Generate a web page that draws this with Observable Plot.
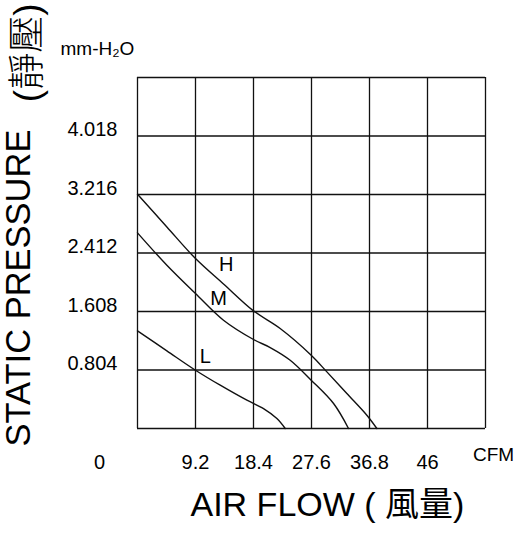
<!DOCTYPE html>
<html>
<head>
<meta charset="utf-8">
<script src="https://cdn.jsdelivr.net/npm/d3@7"></script>
<script src="https://cdn.jsdelivr.net/npm/@observablehq/plot@0.6"></script>
<style>
  html, body { margin: 0; padding: 0; background: #fff; }
  #chart svg { display: block; }
</style>
</head>
<body>
<div id="chart"></div>
<script>
// Grid / tick values
const xGrid = [0, 9.2, 18.4, 27.6, 36.8, 46, 55.2];
const yGrid = [0, 0.804, 1.608, 2.412, 3.216, 4.02, 4.824];
const xTickValues = [9.2, 18.4, 27.6, 36.8, 46];
const xTickLabels = ["9.2", "18.4", "27.6", "36.8", "46"];
const yTickValues = [0.804, 1.608, 2.412, 3.216, 4.02];
const yTickLabels = ["0.804", "1.608", "2.412", "3.216", "4.018"];

// Curves (CFM, mm-H2O)
const hFlow     = [0, 4.66, 9.2, 13.64, 18.4, 22.63, 27.55, 30.04, 33.21, 36.38, 37.97];
const hPressure = [3.22, 2.77, 2.336, 1.987, 1.617, 1.374, 1.007, 0.778, 0.481, 0.183, 0];
const mFlow     = [0, 4.66, 9.2, 13.64, 18.4, 21.05, 24.22, 27.55, 31.1, 33.47];
const mPressure = [2.689, 2.244, 1.855, 1.488, 1.223, 1.113, 0.939, 0.664, 0.343, 0];
const lFlow     = [0, 4.66, 9.2, 13.12, 17.35, 19.99, 22.11, 23.43];
const lPressure = [1.342, 1.067, 0.801, 0.595, 0.389, 0.274, 0.137, 0];

const seriesNames = ["H", "M", "L"];
const labelFlow = [14.07, 12.85, 10.74];
const labelPressure = [2.258, 1.781, 0.994];

const rows = [
  ...hFlow.map((f, i) => ({series: "H", flow: f, pressure: hPressure[i]})),
  ...mFlow.map((f, i) => ({series: "M", flow: f, pressure: mPressure[i]})),
  ...lFlow.map((f, i) => ({series: "L", flow: f, pressure: lPressure[i]}))
];
const labels = seriesNames.map((s, i) => ({series: s, flow: labelFlow[i], pressure: labelPressure[i]}));
const xTicks = xTickValues.map((v, i) => ({v, t: xTickLabels[i]}));
const yTicks = yTickValues.map((v, i) => ({v, t: yTickLabels[i]}));

const FONT = "'Liberation Sans', Arial, Helvetica, 'Noto Sans CJK TC', sans-serif";

const chart = Plot.plot({
  width: 517,
  height: 544,
  marginLeft: 137,
  marginRight: 32,
  marginTop: 77,
  marginBottom: 116,
  x: {domain: [0, 55.2], axis: null},
  y: {domain: [0, 4.824], axis: null},
  style: {fontFamily: FONT, background: "#fff", color: "#000"},
  marks: [
    Plot.ruleX(xGrid, {x: d => d, stroke: "#111", strokeWidth: 1.3}),
    Plot.ruleY(yGrid, {y: d => d, stroke: "#111", strokeWidth: 1.3}),
    Plot.line(rows, {x: "flow", y: "pressure", z: "series", curve: "catmull-rom", stroke: "#111", strokeWidth: 1.4}),
    Plot.text(labels, {x: "flow", y: "pressure", text: "series", fontSize: 20, fill: "#000"}),
    // y tick labels
    Plot.text(yTicks, {y: "v", text: "t", frameAnchor: "left", textAnchor: "end", dx: -20, dy: -6, fontSize: 20, fill: "#000"}),
    // x tick labels
    Plot.text(xTicks, {x: "v", text: "t", frameAnchor: "bottom", dy: 40, fontSize: 20, fill: "#000"}),
    Plot.text(["0"], {x: 0, text: d => d, frameAnchor: "bottom", dx: -38, dy: 40, fontSize: 20, fill: "#000"}),
    // units
    Plot.text(["CFM"], {text: d => d, frameAnchor: "bottom-right", textAnchor: "middle", dx: 8, dy: 32, fontSize: 19, fill: "#000"}),
    Plot.text(["mm-H₂O"], {text: d => d, frameAnchor: "top-left", textAnchor: "start", dx: -77, dy: -36, fontSize: 19, fill: "#000"}),
    // axis titles
    Plot.text(["STATIC PRESSURE"], {text: d => d, frameAnchor: "bottom-left", textAnchor: "start", rotate: -90, dx: -108, dy: 18, fontSize: 34.5, fill: "#000"}),
    Plot.text(["(靜壓)"], {text: d => d, frameAnchor: "top-left", textAnchor: "end", rotate: -90, dx: -124, dy: -74, fontSize: 37, fontWeight: 300, fill: "#000"}),
    Plot.text(["AIR FLOW ( 風量)"], {text: d => d, frameAnchor: "bottom-left", textAnchor: "start", dx: 53, dy: 87, fontSize: 34, fill: "#000"})
  ]
});
document.getElementById("chart").append(chart);
</script>
</body>
</html>
